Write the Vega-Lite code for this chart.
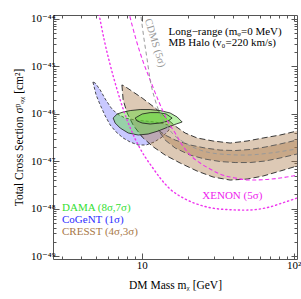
{
  "$schema": "https://vega.github.io/schema/vega-lite/v6.json",
  "width": 244,
  "height": 244,
  "autosize": {"type": "none"},
  "padding": {"left": 53, "top": 15, "right": 4, "bottom": 40},
  "background": "white",
  "config": {
    "view": {"stroke": "#555555", "strokeWidth": 1},
    "font": "Liberation Serif",
    "axis": {"labelFont": "Liberation Serif, DejaVu Serif", "titleFont": "Liberation Serif, DejaVu Serif", "labelColor": "black", "titleColor": "black", "tickColor": "#555555", "domain": false, "grid": false, "titleFontWeight": "normal", "labelFontSize": 11, "titleFontSize": 11.5, "labelOverlap": false, "labelFlush": false}
  },
  "datasets": {
    "curves": [
      {"shape":"cogent","i":0,"mass":4.76,"xsec":4.69e-46},{"shape":"cogent","i":1,"mass":5.00,"xsec":2.49e-46},{"shape":"cogent","i":2,"mass":5.32,"xsec":1.53e-46},{"shape":"cogent","i":3,"mass":5.74,"xsec":8.99e-47},{"shape":"cogent","i":4,"mass":6.19,"xsec":5.80e-47},{"shape":"cogent","i":5,"mass":6.77,"xsec":4.13e-47},{"shape":"cogent","i":6,"mass":7.53,"xsec":3.09e-47},{"shape":"cogent","i":7,"mass":8.38,"xsec":2.54e-47},{"shape":"cogent","i":8,"mass":9.46,"xsec":2.20e-47},{"shape":"cogent","i":9,"mass":10.67,"xsec":2.20e-47},{"shape":"cogent","i":10,"mass":12.05,"xsec":2.54e-47},{"shape":"cogent","i":11,"mass":13.60,"xsec":3.24e-47},{"shape":"cogent","i":12,"mass":14.89,"xsec":4.34e-47},{"shape":"cogent","i":13,"mass":15.59,"xsec":5.53e-47},{"shape":"cogent","i":14,"mass":14.23,"xsec":6.09e-47},{"shape":"cogent","i":15,"mass":12.23,"xsec":6.71e-47},{"shape":"cogent","i":16,"mass":10.51,"xsec":7.05e-47},{"shape":"cogent","i":17,"mass":9.03,"xsec":7.40e-47},{"shape":"cogent","i":18,"mass":7.77,"xsec":8.15e-47},{"shape":"cogent","i":19,"mass":6.88,"xsec":9.91e-47},{"shape":"cogent","i":20,"mass":6.28,"xsec":1.33e-46},{"shape":"cogent","i":21,"mass":5.74,"xsec":2.05e-46},{"shape":"cogent","i":22,"mass":5.32,"xsec":3.18e-46},{"shape":"cogent","i":23,"mass":4.93,"xsec":4.46e-46},{"shape":"cogent","i":24,"mass":4.76,"xsec":4.69e-46},

      {"shape":"cresst4","i":0,"mass":7.39,"xsec":4.06e-46},{"shape":"cresst4","i":1,"mass":7.53,"xsec":1.95e-46},{"shape":"cresst4","i":2,"mass":8.00,"xsec":1.04e-46},{"shape":"cresst4","i":3,"mass":8.76,"xsec":5.80e-47},{"shape":"cresst4","i":4,"mass":10.05,"xsec":3.24e-47},{"shape":"cresst4","i":5,"mass":11.69,"xsec":2.09e-47},{"shape":"cresst4","i":6,"mass":14.23,"xsec":1.35e-47},{"shape":"cresst4","i":7,"mass":17.87,"xsec":9.17e-48},{"shape":"cresst4","i":8,"mass":23.11,"xsec":6.21e-48},{"shape":"cresst4","i":9,"mass":29.45,"xsec":4.65e-48},{"shape":"cresst4","i":10,"mass":38.10,"xsec":4.01e-48},{"shape":"cresst4","i":11,"mass":49.30,"xsec":4.21e-48},{"shape":"cresst4","i":12,"mass":62.81,"xsec":4.88e-48},{"shape":"cresst4","i":13,"mass":81.28,"xsec":6.21e-48},{"shape":"cresst4","i":14,"mass":105.1,"xsec":7.93e-48},{"shape":"cresst4","i":15,"mass":118,"xsec":8.9e-48},{"shape":"cresst4","i":16,"mass":118,"xsec":4.8e-47},{"shape":"cresst4","i":17,"mass":105.1,"xsec":4.34e-47},{"shape":"cresst4","i":18,"mass":81.28,"xsec":3.57e-47},{"shape":"cresst4","i":19,"mass":62.81,"xsec":3.09e-47},{"shape":"cresst4","i":20,"mass":49.30,"xsec":2.67e-47},{"shape":"cresst4","i":21,"mass":38.10,"xsec":2.42e-47},{"shape":"cresst4","i":22,"mass":29.45,"xsec":2.67e-47},{"shape":"cresst4","i":23,"mass":23.11,"xsec":3.09e-47},{"shape":"cresst4","i":24,"mass":19.27,"xsec":3.94e-47},{"shape":"cresst4","i":25,"mass":16.56,"xsec":5.53e-47},{"shape":"cresst4","i":26,"mass":14.45,"xsec":8.15e-47},{"shape":"cresst4","i":27,"mass":12.23,"xsec":1.33e-46},{"shape":"cresst4","i":28,"mass":10.05,"xsec":2.15e-46},{"shape":"cresst4","i":29,"mass":8.38,"xsec":3.18e-46},{"shape":"cresst4","i":30,"mass":7.65,"xsec":3.86e-46},{"shape":"cresst4","i":31,"mass":7.39,"xsec":4.06e-46},

      {"shape":"cresst3","i":0,"mass":12.80,"xsec":4.55e-47},{"shape":"cresst3","i":1,"mass":14.23,"xsec":3.57e-47},{"shape":"cresst3","i":2,"mass":16.56,"xsec":2.80e-47},{"shape":"cresst3","i":3,"mass":20.79,"xsec":2.20e-47},{"shape":"cresst3","i":4,"mass":26.09,"xsec":1.90e-47},{"shape":"cresst3","i":5,"mass":32.75,"xsec":1.72e-47},{"shape":"cresst3","i":6,"mass":41.11,"xsec":1.68e-47},{"shape":"cresst3","i":7,"mass":51.60,"xsec":1.77e-47},{"shape":"cresst3","i":8,"mass":64.75,"xsec":1.99e-47},{"shape":"cresst3","i":9,"mass":81.28,"xsec":2.31e-47},{"shape":"cresst3","i":10,"mass":105.1,"xsec":2.80e-47},{"shape":"cresst3","i":11,"mass":118,"xsec":3.1e-47},{"shape":"cresst3","i":12,"mass":118,"xsec":1.56e-47},{"shape":"cresst3","i":13,"mass":105.1,"xsec":1.42e-47},{"shape":"cresst3","i":14,"mass":81.28,"xsec":1.17e-47},{"shape":"cresst3","i":15,"mass":64.75,"xsec":1.01e-47},{"shape":"cresst3","i":16,"mass":51.60,"xsec":9.39e-48},{"shape":"cresst3","i":17,"mass":41.11,"xsec":9.39e-48},{"shape":"cresst3","i":18,"mass":32.75,"xsec":9.86e-48},{"shape":"cresst3","i":19,"mass":26.09,"xsec":1.11e-47},{"shape":"cresst3","i":20,"mass":20.79,"xsec":1.35e-47},{"shape":"cresst3","i":21,"mass":16.56,"xsec":1.90e-47},{"shape":"cresst3","i":22,"mass":14.23,"xsec":2.80e-47},{"shape":"cresst3","i":23,"mass":12.80,"xsec":4.55e-47},

      {"shape":"dama8","i":0,"mass":6.47,"xsec":8.15e-47},{"shape":"dama8","i":1,"mass":6.88,"xsec":9.91e-47},{"shape":"dama8","i":2,"mass":7.53,"xsec":1.09e-46},{"shape":"dama8","i":3,"mass":8.38,"xsec":1.17e-46},{"shape":"dama8","i":4,"mass":9.74,"xsec":1.23e-46},{"shape":"dama8","i":5,"mass":11.34,"xsec":1.23e-46},{"shape":"dama8","i":6,"mass":13.19,"xsec":1.17e-46},{"shape":"dama8","i":7,"mass":15.35,"xsec":1.04e-46},{"shape":"dama8","i":8,"mass":17.07,"xsec":8.56e-47},{"shape":"dama8","i":9,"mass":18.42,"xsec":6.71e-47},{"shape":"dama8","i":10,"mass":16.81,"xsec":6.09e-47},{"shape":"dama8","i":11,"mass":14.89,"xsec":5.27e-47},{"shape":"dama8","i":12,"mass":12.80,"xsec":4.34e-47},{"shape":"dama8","i":13,"mass":11.00,"xsec":3.75e-47},{"shape":"dama8","i":14,"mass":9.46,"xsec":3.57e-47},{"shape":"dama8","i":15,"mass":8.13,"xsec":3.94e-47},{"shape":"dama8","i":16,"mass":7.20,"xsec":5.01e-47},{"shape":"dama8","i":17,"mass":6.67,"xsec":6.40e-47},{"shape":"dama8","i":18,"mass":6.47,"xsec":8.15e-47},

      {"shape":"dama7","i":0,"mass":9.03,"xsec":8.15e-47},{"shape":"dama7","i":1,"mass":10.05,"xsec":9.91e-47},{"shape":"dama7","i":2,"mass":11.34,"xsec":1.06e-46},{"shape":"dama7","i":3,"mass":12.80,"xsec":1.06e-46},{"shape":"dama7","i":4,"mass":14.45,"xsec":9.91e-47},{"shape":"dama7","i":5,"mass":15.82,"xsec":8.15e-47},{"shape":"dama7","i":6,"mass":14.89,"xsec":7.05e-47},{"shape":"dama7","i":7,"mass":13.19,"xsec":6.40e-47},{"shape":"dama7","i":8,"mass":11.34,"xsec":6.09e-47},{"shape":"dama7","i":9,"mass":10.05,"xsec":6.40e-47},{"shape":"dama7","i":10,"mass":9.31,"xsec":7.05e-47},{"shape":"dama7","i":11,"mass":9.03,"xsec":8.15e-47},

      {"shape":"xenon_dot","i":0,"mass":5.16,"xsec":1.55e-44},{"shape":"xenon_dot","i":1,"mass":5.65,"xsec":3.61e-45},{"shape":"xenon_dot","i":2,"mass":6.19,"xsec":1.07e-45},{"shape":"xenon_dot","i":3,"mass":6.88,"xsec":3.18e-46},{"shape":"xenon_dot","i":4,"mass":7.65,"xsec":1.09e-46},{"shape":"xenon_dot","i":5,"mass":8.50,"xsec":4.55e-47},{"shape":"xenon_dot","i":6,"mass":9.46,"xsec":2.20e-47},{"shape":"xenon_dot","i":7,"mass":10.51,"xsec":1.23e-47},{"shape":"xenon_dot","i":8,"mass":11.69,"xsec":7.55e-48},{"shape":"xenon_dot","i":9,"mass":13.19,"xsec":4.43e-48},{"shape":"xenon_dot","i":10,"mass":15.35,"xsec":2.59e-48},{"shape":"xenon_dot","i":11,"mass":19.27,"xsec":1.60e-48},{"shape":"xenon_dot","i":12,"mass":24.19,"xsec":1.19e-48},{"shape":"xenon_dot","i":13,"mass":32.75,"xsec":9.81e-49},{"shape":"xenon_dot","i":14,"mass":47.83,"xsec":9.34e-49},{"shape":"xenon_dot","i":15,"mass":64.75,"xsec":1.03e-48},{"shape":"xenon_dot","i":16,"mass":87.66,"xsec":1.38e-48},{"shape":"xenon_dot","i":17,"mass":105.1,"xsec":1.68e-48},{"shape":"xenon_dot","i":18,"mass":118,"xsec":1.94e-48},

      {"shape":"xenon_dash","i":0,"mass":8.13,"xsec":1.55e-44},{"shape":"xenon_dash","i":1,"mass":9.17,"xsec":3.61e-45},{"shape":"xenon_dash","i":2,"mass":10.20,"xsec":1.24e-45},{"shape":"xenon_dash","i":3,"mass":11.34,"xsec":5.16e-46},{"shape":"xenon_dash","i":4,"mass":12.80,"xsec":1.95e-46},{"shape":"xenon_dash","i":5,"mass":14.89,"xsec":6.71e-47},{"shape":"xenon_dash","i":6,"mass":16.56,"xsec":3.94e-47},{"shape":"xenon_dash","i":7,"mass":18.42,"xsec":2.20e-47},{"shape":"xenon_dash","i":8,"mass":20.79,"xsec":1.35e-47},{"shape":"xenon_dash","i":9,"mass":24.19,"xsec":9.17e-48},{"shape":"xenon_dash","i":10,"mass":28.14,"xsec":6.85e-48},{"shape":"xenon_dash","i":11,"mass":32.75,"xsec":5.37e-48},{"shape":"xenon_dash","i":12,"mass":41.11,"xsec":4.43e-48},{"shape":"xenon_dash","i":13,"mass":51.60,"xsec":4.01e-48},{"shape":"xenon_dash","i":14,"mass":64.75,"xsec":4.11e-48},{"shape":"xenon_dash","i":15,"mass":81.28,"xsec":4.43e-48},{"shape":"xenon_dash","i":16,"mass":105.1,"xsec":5.12e-48},{"shape":"xenon_dash","i":17,"mass":118,"xsec":5.64e-48},

      {"shape":"cdms","i":0,"mass":9.74,"xsec":1.55e-44},{"shape":"cdms","i":1,"mass":10.35,"xsec":3.61e-45},{"shape":"cdms","i":2,"mass":10.84,"xsec":1.37e-45},{"shape":"cdms","i":3,"mass":11.34,"xsec":5.16e-46},{"shape":"cdms","i":4,"mass":12.23,"xsec":1.95e-46},{"shape":"cdms","i":5,"mass":13.60,"xsec":8.15e-47},{"shape":"cdms","i":6,"mass":15.82,"xsec":3.94e-47},{"shape":"cdms","i":7,"mass":19.27,"xsec":2.42e-47},{"shape":"cdms","i":8,"mass":24.19,"xsec":1.72e-47},{"shape":"cdms","i":9,"mass":32.75,"xsec":1.42e-47},{"shape":"cdms","i":10,"mass":47.83,"xsec":1.35e-47},{"shape":"cdms","i":11,"mass":69.86,"xsec":1.49e-47},{"shape":"cdms","i":12,"mass":105.1,"xsec":1.81e-47},{"shape":"cdms","i":13,"mass":118,"xsec":1.90e-47}
    ],
    "notes": [
      {"kind":"DAMA","label":"DAMA  (8σ,7σ)","mass":2.98,"xsec":1.03e-48},
      {"kind":"CoGeNT","label":"CoGeNT  (1σ)","mass":2.98,"xsec":5.75e-49},
      {"kind":"CRESST","label":"CRESST  (4σ,3σ)","mass":2.98,"xsec":3.21e-49},
      {"kind":"XENON","label":"XENON (5σ)","mass":25.0,"xsec":1.84e-48},
      {"kind":"info","label":"Long−range (mᵩ=0 MeV)","mass":14.96,"xsec":5.32e-45},
      {"kind":"info","label":"MB Halo (v₀=220 km/s)","mass":14.96,"xsec":3.04e-45}
    ]
  },
  "encoding": {
    "x": {"field": "mass", "type": "quantitative", "scale": {"type": "log", "domain": [2.6, 105], "nice": false}, "axis": null},
    "y": {"field": "xsec", "type": "quantitative", "scale": {"type": "log", "domain": [8.7e-50, 1.21e-44], "nice": false}, "axis": null}
  },
  "layer": [
    {
      "data": {"values": [{"mass": 10, "xsec": 1e-46}]},
      "mark": {"type": "point", "opacity": 0},
      "encoding": {
        "x": {"field": "mass", "type": "quantitative", "scale": {"type": "log", "domain": [2.6, 105], "nice": false},
          "axis": {"orient": "bottom", "values": [3,4,5,6,7,8,9,10,20,30,40,50,60,70,80,90,100], "labelExpr": "datum.value == 10 ? '10' : (datum.value == 100 ? '10²' : '')", "tickSize": {"condition": {"test": "datum.value == 10 || datum.value == 100", "value": -6}, "value": -3}, "labelPadding": 6, "title": "DM Mass    mᵪ [GeV]", "titlePadding": 6}},
        "y": {"field": "xsec", "type": "quantitative", "scale": {"type": "log", "domain": [8.7e-50, 1.21e-44], "nice": false},
          "axis": {"orient": "left", "values": [1e-49,2e-49,3e-49,4e-49,5e-49,6e-49,7e-49,8e-49,9e-49,1e-48,2e-48,3e-48,4e-48,5e-48,6e-48,7e-48,8e-48,9e-48,1e-47,2e-47,3e-47,4e-47,5e-47,6e-47,7e-47,8e-47,9e-47,1e-46,2e-46,3e-46,4e-46,5e-46,6e-46,7e-46,8e-46,9e-46,1e-45,2e-45,3e-45,4e-45,5e-45,6e-45,7e-45,8e-45,9e-45,1e-44],
            "labelExpr": "abs(log(datum.value)/LN10 - round(log(datum.value)/LN10)) > 0.01 ? '' : '10' + ['⁻⁴⁹','⁻⁴⁸','⁻⁴⁷','⁻⁴⁶','⁻⁴⁵','⁻⁴⁴'][round(log(datum.value)/LN10) + 49]",
            "tickSize": {"condition": {"test": "abs(log(datum.value)/LN10 - round(log(datum.value)/LN10)) < 0.01", "value": -6}, "value": -3}, "labelPadding": 4, "title": "Total Cross Section   σᵖᵩᵪ [cm²]", "titlePadding": 6}}
      }
    },
    {
      "data": {"values": [{"mass": 10, "xsec": 1e-46}]},
      "mark": {"type": "point", "opacity": 0},
      "encoding": {
        "x": {"field": "mass", "type": "quantitative", "scale": {"type": "log", "domain": [2.6, 105], "nice": false},
          "axis": {"orient": "top", "values": [3,4,5,6,7,8,9,10,20,30,40,50,60,70,80,90,100], "labels": false, "title": null, "tickSize": {"condition": {"test": "datum.value == 10 || datum.value == 100", "value": -6}, "value": -3}}},
        "y": {"field": "xsec", "type": "quantitative", "scale": {"type": "log", "domain": [8.7e-50, 1.21e-44], "nice": false},
          "axis": {"orient": "right", "values": [1e-49,2e-49,3e-49,4e-49,5e-49,6e-49,7e-49,8e-49,9e-49,1e-48,2e-48,3e-48,4e-48,5e-48,6e-48,7e-48,8e-48,9e-48,1e-47,2e-47,3e-47,4e-47,5e-47,6e-47,7e-47,8e-47,9e-47,1e-46,2e-46,3e-46,4e-46,5e-46,6e-46,7e-46,8e-46,9e-46,1e-45,2e-45,3e-45,4e-45,5e-45,6e-45,7e-45,8e-45,9e-45,1e-44], "labels": false, "title": null,
            "tickSize": {"condition": {"test": "abs(log(datum.value)/LN10 - round(log(datum.value)/LN10)) < 0.01", "value": -6}, "value": -3}}}
      }
    },
    {
      "data": {"name": "curves"},
      "transform": [{"filter": "datum.shape == 'cogent'"}],
      "mark": {"type": "line", "fill": "#5a5aff", "fillOpacity": 0.33, "stroke": "#222222", "strokeWidth": 0.8, "strokeDash": [3, 2], "clip": true},
      "encoding": {"order": {"field": "i", "type": "quantitative"}}
    },
    {
      "data": {"name": "curves"},
      "transform": [{"filter": "datum.shape == 'cresst4'"}],
      "mark": {"type": "line", "fill": "#aa7846", "fillOpacity": 0.4, "stroke": "#222222", "strokeWidth": 0.9, "strokeDash": [6, 3], "clip": true},
      "encoding": {"order": {"field": "i", "type": "quantitative"}}
    },
    {
      "data": {"name": "curves"},
      "transform": [{"filter": "datum.shape == 'cresst3'"}],
      "mark": {"type": "line", "fill": "#aa7846", "fillOpacity": 0.4, "stroke": "#555555", "strokeWidth": 0.9, "strokeDash": [6, 3], "clip": true},
      "encoding": {"order": {"field": "i", "type": "quantitative"}}
    },
    {
      "data": {"name": "curves"},
      "transform": [{"filter": "datum.shape == 'dama8'"}],
      "mark": {"type": "line", "fill": "#50dc28", "fillOpacity": 0.4, "stroke": "#1a1a1a", "strokeWidth": 0.8, "clip": true},
      "encoding": {"order": {"field": "i", "type": "quantitative"}}
    },
    {
      "data": {"name": "curves"},
      "transform": [{"filter": "datum.shape == 'dama7'"}],
      "mark": {"type": "line", "fill": "#50dc28", "fillOpacity": 0.4, "stroke": "#1a1a1a", "strokeWidth": 0.8, "clip": true},
      "encoding": {"order": {"field": "i", "type": "quantitative"}}
    },
    {
      "data": {"name": "curves"},
      "transform": [{"filter": "datum.shape == 'xenon_dot'"}],
      "mark": {"type": "line", "stroke": "#ee33ee", "strokeWidth": 1.4, "strokeDash": [1.2, 3], "strokeCap": "round", "interpolate": "monotone", "clip": true},
      "encoding": {"order": {"field": "i", "type": "quantitative"}}
    },
    {
      "data": {"name": "curves"},
      "transform": [{"filter": "datum.shape == 'xenon_dash'"}],
      "mark": {"type": "line", "stroke": "#ee33ee", "strokeWidth": 1.1, "strokeDash": [4, 2.5], "interpolate": "monotone", "clip": true},
      "encoding": {"order": {"field": "i", "type": "quantitative"}}
    },
    {
      "data": {"name": "curves"},
      "transform": [{"filter": "datum.shape == 'cdms'"}],
      "mark": {"type": "line", "stroke": "#999999", "strokeWidth": 1, "strokeDash": [4, 3], "interpolate": "monotone", "clip": true},
      "encoding": {"order": {"field": "i", "type": "quantitative"}}
    },
    {
      "data": {"name": "notes"},
      "transform": [{"filter": "datum.kind != 'XENON'"}],
      "mark": {"type": "text", "align": "left", "baseline": "middle", "font": "Liberation Serif, DejaVu Serif", "fontSize": 11},
      "encoding": {
        "text": {"field": "label"},
        "color": {"field": "kind", "type": "nominal", "scale": {"domain": ["DAMA", "CoGeNT", "CRESST", "XENON", "info"], "range": ["#33e033", "#2b2bff", "#a87848", "#ee22ee", "#000000"]}, "legend": null}
      }
    },
    {
      "data": {"name": "notes"},
      "transform": [{"filter": "datum.kind == 'XENON'"}],
      "mark": {"type": "text", "align": "left", "baseline": "middle", "font": "Liberation Serif, DejaVu Serif", "fontSize": 11, "color": "#ee22ee"},
      "encoding": {"text": {"field": "label"}}
    },
    {
      "data": {"values": [{"label": "CDMS (5σ)", "mass": 12.2, "xsec": 3.12e-45}]},
      "mark": {"type": "text", "align": "center", "baseline": "middle", "font": "Liberation Serif, DejaVu Serif", "fontSize": 10.5, "color": "#999999", "angle": 73},
      "encoding": {"text": {"field": "label"}}
    }
  ],
  "resolve": {"axis": {"x": "independent", "y": "independent"}}
}
